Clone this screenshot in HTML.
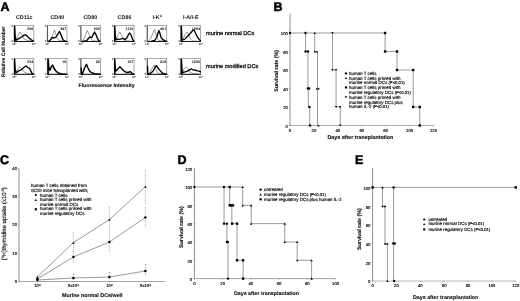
<!DOCTYPE html>
<html lang="en">
<head>
<meta charset="utf-8">
<title>Figure</title>
<style>
html,body{margin:0;padding:0;background:#fff;}
body{width:520px;height:301px;overflow:hidden;font-family:"Liberation Sans",Arial,sans-serif;}
svg{display:block;filter:blur(0.4px);}
svg text{font-family:"Liberation Sans",Arial,sans-serif;text-rendering:geometricPrecision;}
</style>
</head>
<body>
<svg width="520" height="301" viewBox="0 0 520 301">
<rect x="0" y="0" width="520" height="301" fill="#ffffff"/>
<text x="0.5" y="10.5" font-size="12.5" font-weight="bold" text-anchor="start" fill="#000" stroke="#000" stroke-width="0.5">A</text>
<text x="24.2" y="19" font-size="5.4" font-weight="bold" text-anchor="middle" fill="#111">CD11c</text>
<text x="57.3" y="19" font-size="5.4" font-weight="bold" text-anchor="middle" fill="#111">CD40</text>
<text x="90.3" y="19" font-size="5.4" font-weight="bold" text-anchor="middle" fill="#111">CD80</text>
<text x="124.5" y="19" font-size="5.4" font-weight="bold" text-anchor="middle" fill="#111">CD86</text>
<text x="157.2" y="19" font-size="5.4" font-weight="bold" text-anchor="middle" fill="#111">I-K<tspan font-size="3.4" dy="-1.6">d</tspan></text>
<text x="190.7" y="19" font-size="5.4" font-weight="bold" text-anchor="middle" fill="#111">I-A/I-E</text>
<rect x="14.25" y="25.6" width="19.6" height="15.90" fill="none" stroke="#666" stroke-width="0.55"/>
<line x1="13.95" y1="41.5" x2="34.15" y2="41.5" stroke="#111" stroke-width="1.0"/>
<line x1="14.25" y1="25.6" x2="14.25" y2="41.5" stroke="#333" stroke-width="0.8"/>
<text x="13.05" y="27.0" font-size="2.8" font-weight="bold" text-anchor="end" fill="#222">0</text>
<text x="13.05" y="42.3" font-size="2.8" font-weight="bold" text-anchor="end" fill="#222">0</text>
<text x="14.25" y="45.1" font-size="2.8" font-weight="bold" text-anchor="middle" fill="#222">10<tspan font-size="1.9" dy="-1">0</tspan></text>
<text x="33.85" y="45.1" font-size="2.8" font-weight="bold" text-anchor="middle" fill="#222">10<tspan font-size="1.9" dy="-1">4</tspan></text>
<line x1="19.15" y1="41.5" x2="19.15" y2="40.7" stroke="#777" stroke-width="0.4"/>
<line x1="24.05" y1="41.5" x2="24.05" y2="40.7" stroke="#777" stroke-width="0.4"/>
<line x1="28.950000000000003" y1="41.5" x2="28.950000000000003" y2="40.7" stroke="#777" stroke-width="0.4"/>
<polyline points="14.25,41.50 16.21,39.12 18.17,35.14 19.93,31.96 21.70,35.14 24.05,39.12 27.97,40.70 33.85,41.50" fill="none" stroke="#333" stroke-width="0.5" stroke-linejoin="round"/>
<polyline points="14.64,41.50 14.64,26.08 15.23,36.73 16.21,40.23 19.15,38.32 22.09,36.73 24.05,35.14 25.62,34.82 27.97,37.05 30.91,39.59 33.26,41.18" fill="none" stroke="#000" stroke-width="1.35" stroke-linejoin="round" stroke-linecap="round"/>
<text x="33.25" y="30.200000000000003" font-size="3.7" font-weight="bold" text-anchor="end" fill="#111">356</text>
<rect x="47.4" y="25.6" width="19.6" height="15.90" fill="none" stroke="#666" stroke-width="0.55"/>
<line x1="47.1" y1="41.5" x2="67.3" y2="41.5" stroke="#111" stroke-width="1.0"/>
<line x1="47.4" y1="25.6" x2="47.4" y2="41.5" stroke="#333" stroke-width="0.8"/>
<text x="46.199999999999996" y="27.0" font-size="2.8" font-weight="bold" text-anchor="end" fill="#222">0</text>
<text x="46.199999999999996" y="42.3" font-size="2.8" font-weight="bold" text-anchor="end" fill="#222">0</text>
<text x="47.4" y="45.1" font-size="2.8" font-weight="bold" text-anchor="middle" fill="#222">10<tspan font-size="1.9" dy="-1">0</tspan></text>
<text x="67.0" y="45.1" font-size="2.8" font-weight="bold" text-anchor="middle" fill="#222">10<tspan font-size="1.9" dy="-1">4</tspan></text>
<line x1="52.3" y1="41.5" x2="52.3" y2="40.7" stroke="#777" stroke-width="0.4"/>
<line x1="57.2" y1="41.5" x2="57.2" y2="40.7" stroke="#777" stroke-width="0.4"/>
<line x1="62.1" y1="41.5" x2="62.1" y2="40.7" stroke="#777" stroke-width="0.4"/>
<polyline points="48.38,41.50 51.32,38.32 53.28,33.55 54.46,30.05 55.63,33.55 57.20,38.32 59.16,40.70 67.00,41.50" fill="none" stroke="#333" stroke-width="0.5" stroke-linejoin="round"/>
<polyline points="48.38,41.50 50.34,39.91 52.30,37.52 54.26,38.00 56.22,36.73 58.18,33.55 59.55,31.48 61.12,35.14 63.08,39.91 65.04,41.18 67.00,41.50" fill="none" stroke="#000" stroke-width="1.35" stroke-linejoin="round" stroke-linecap="round"/>
<text x="66.4" y="30.200000000000003" font-size="3.7" font-weight="bold" text-anchor="end" fill="#111">247</text>
<rect x="80.9" y="25.6" width="19.6" height="15.90" fill="none" stroke="#666" stroke-width="0.55"/>
<line x1="80.60000000000001" y1="41.5" x2="100.8" y2="41.5" stroke="#111" stroke-width="1.0"/>
<line x1="80.9" y1="25.6" x2="80.9" y2="41.5" stroke="#333" stroke-width="0.8"/>
<text x="79.7" y="27.0" font-size="2.8" font-weight="bold" text-anchor="end" fill="#222">0</text>
<text x="79.7" y="42.3" font-size="2.8" font-weight="bold" text-anchor="end" fill="#222">0</text>
<text x="80.9" y="45.1" font-size="2.8" font-weight="bold" text-anchor="middle" fill="#222">10<tspan font-size="1.9" dy="-1">0</tspan></text>
<text x="100.5" y="45.1" font-size="2.8" font-weight="bold" text-anchor="middle" fill="#222">10<tspan font-size="1.9" dy="-1">4</tspan></text>
<line x1="85.80000000000001" y1="41.5" x2="85.80000000000001" y2="40.7" stroke="#777" stroke-width="0.4"/>
<line x1="90.7" y1="41.5" x2="90.7" y2="40.7" stroke="#777" stroke-width="0.4"/>
<line x1="95.60000000000001" y1="41.5" x2="95.60000000000001" y2="40.7" stroke="#777" stroke-width="0.4"/>
<polyline points="81.88,41.50 83.84,39.12 85.80,34.34 87.37,30.53 88.74,33.55 90.70,38.32 92.66,40.70 100.50,41.50" fill="none" stroke="#333" stroke-width="0.5" stroke-linejoin="round"/>
<polyline points="82.86,41.50 86.78,40.70 88.74,38.00 90.11,37.05 91.68,37.52 93.25,34.34 94.62,31.96 96.19,35.14 98.15,39.91 99.91,41.50" fill="none" stroke="#000" stroke-width="1.35" stroke-linejoin="round" stroke-linecap="round"/>
<text x="99.9" y="30.200000000000003" font-size="3.7" font-weight="bold" text-anchor="end" fill="#111">506</text>
<rect x="114.4" y="25.6" width="19.6" height="15.90" fill="none" stroke="#666" stroke-width="0.55"/>
<line x1="114.10000000000001" y1="41.5" x2="134.3" y2="41.5" stroke="#111" stroke-width="1.0"/>
<line x1="114.4" y1="25.6" x2="114.4" y2="41.5" stroke="#333" stroke-width="0.8"/>
<text x="113.2" y="27.0" font-size="2.8" font-weight="bold" text-anchor="end" fill="#222">0</text>
<text x="113.2" y="42.3" font-size="2.8" font-weight="bold" text-anchor="end" fill="#222">0</text>
<text x="114.4" y="45.1" font-size="2.8" font-weight="bold" text-anchor="middle" fill="#222">10<tspan font-size="1.9" dy="-1">0</tspan></text>
<text x="134.0" y="45.1" font-size="2.8" font-weight="bold" text-anchor="middle" fill="#222">10<tspan font-size="1.9" dy="-1">4</tspan></text>
<line x1="119.30000000000001" y1="41.5" x2="119.30000000000001" y2="40.7" stroke="#777" stroke-width="0.4"/>
<line x1="124.2" y1="41.5" x2="124.2" y2="40.7" stroke="#777" stroke-width="0.4"/>
<line x1="129.1" y1="41.5" x2="129.1" y2="40.7" stroke="#777" stroke-width="0.4"/>
<polyline points="114.99,41.50 116.75,38.32 118.32,34.34 119.89,31.96 121.46,35.14 123.22,39.12 125.18,40.70 134.00,41.50" fill="none" stroke="#333" stroke-width="0.5" stroke-linejoin="round"/>
<polyline points="114.79,41.50 114.79,26.08 115.38,36.73 116.36,39.59 120.28,39.12 123.22,38.32 125.18,39.59 127.14,37.52 128.51,34.34 129.69,33.07 131.06,35.14 132.63,39.59 134.00,41.50" fill="none" stroke="#000" stroke-width="1.35" stroke-linejoin="round" stroke-linecap="round"/>
<text x="133.4" y="30.200000000000003" font-size="3.7" font-weight="bold" text-anchor="end" fill="#111">1110</text>
<rect x="147.2" y="25.6" width="19.6" height="15.90" fill="none" stroke="#666" stroke-width="0.55"/>
<line x1="146.89999999999998" y1="41.5" x2="167.1" y2="41.5" stroke="#111" stroke-width="1.0"/>
<line x1="147.2" y1="25.6" x2="147.2" y2="41.5" stroke="#333" stroke-width="0.8"/>
<text x="146.0" y="27.0" font-size="2.8" font-weight="bold" text-anchor="end" fill="#222">0</text>
<text x="146.0" y="42.3" font-size="2.8" font-weight="bold" text-anchor="end" fill="#222">0</text>
<text x="147.2" y="45.1" font-size="2.8" font-weight="bold" text-anchor="middle" fill="#222">10<tspan font-size="1.9" dy="-1">0</tspan></text>
<text x="166.79999999999998" y="45.1" font-size="2.8" font-weight="bold" text-anchor="middle" fill="#222">10<tspan font-size="1.9" dy="-1">4</tspan></text>
<line x1="152.1" y1="41.5" x2="152.1" y2="40.7" stroke="#777" stroke-width="0.4"/>
<line x1="157.0" y1="41.5" x2="157.0" y2="40.7" stroke="#777" stroke-width="0.4"/>
<line x1="161.89999999999998" y1="41.5" x2="161.89999999999998" y2="40.7" stroke="#777" stroke-width="0.4"/>
<polyline points="148.18,41.50 150.14,39.12 152.10,35.14 153.67,31.16 154.45,29.42 155.63,33.55 157.00,38.32 158.96,40.70 166.80,41.50" fill="none" stroke="#333" stroke-width="0.5" stroke-linejoin="round"/>
<polyline points="151.12,41.50 155.04,40.23 157.00,36.73 157.98,32.76 158.96,30.53 159.94,33.55 161.31,38.00 163.27,39.91 165.82,41.18 166.80,41.50" fill="none" stroke="#000" stroke-width="1.35" stroke-linejoin="round" stroke-linecap="round"/>
<text x="166.2" y="30.200000000000003" font-size="3.7" font-weight="bold" text-anchor="end" fill="#111">451</text>
<rect x="181.0" y="25.6" width="19.6" height="15.90" fill="none" stroke="#666" stroke-width="0.55"/>
<line x1="180.7" y1="41.5" x2="200.9" y2="41.5" stroke="#111" stroke-width="1.0"/>
<line x1="181.0" y1="25.6" x2="181.0" y2="41.5" stroke="#333" stroke-width="0.8"/>
<text x="179.8" y="27.0" font-size="2.8" font-weight="bold" text-anchor="end" fill="#222">0</text>
<text x="179.8" y="42.3" font-size="2.8" font-weight="bold" text-anchor="end" fill="#222">0</text>
<text x="181.0" y="45.1" font-size="2.8" font-weight="bold" text-anchor="middle" fill="#222">10<tspan font-size="1.9" dy="-1">0</tspan></text>
<text x="200.6" y="45.1" font-size="2.8" font-weight="bold" text-anchor="middle" fill="#222">10<tspan font-size="1.9" dy="-1">4</tspan></text>
<line x1="185.9" y1="41.5" x2="185.9" y2="40.7" stroke="#777" stroke-width="0.4"/>
<line x1="190.8" y1="41.5" x2="190.8" y2="40.7" stroke="#777" stroke-width="0.4"/>
<line x1="195.7" y1="41.5" x2="195.7" y2="40.7" stroke="#777" stroke-width="0.4"/>
<polyline points="181.59,41.50 183.35,38.32 185.31,34.34 187.08,31.96 188.84,35.14 190.80,39.12 192.76,41.02 200.60,41.50" fill="none" stroke="#333" stroke-width="0.5" stroke-linejoin="round"/>
<polyline points="181.39,41.50 181.39,26.08 181.98,40.23 184.92,39.12 187.86,35.94 190.80,32.76 192.76,30.37 193.94,30.05 195.70,33.55 197.66,37.52 199.62,39.91 200.60,40.70" fill="none" stroke="#000" stroke-width="1.35" stroke-linejoin="round" stroke-linecap="round"/>
<text x="200.0" y="30.200000000000003" font-size="3.7" font-weight="bold" text-anchor="end" fill="#111">1964</text>
<rect x="14.25" y="58.6" width="19.6" height="15.70" fill="none" stroke="#666" stroke-width="0.55"/>
<line x1="13.95" y1="74.3" x2="34.15" y2="74.3" stroke="#111" stroke-width="1.0"/>
<line x1="14.25" y1="58.6" x2="14.25" y2="74.3" stroke="#333" stroke-width="0.8"/>
<text x="13.05" y="60.0" font-size="2.8" font-weight="bold" text-anchor="end" fill="#222">0</text>
<text x="13.05" y="75.1" font-size="2.8" font-weight="bold" text-anchor="end" fill="#222">0</text>
<text x="14.25" y="77.89999999999999" font-size="2.8" font-weight="bold" text-anchor="middle" fill="#222">10<tspan font-size="1.9" dy="-1">0</tspan></text>
<text x="33.85" y="77.89999999999999" font-size="2.8" font-weight="bold" text-anchor="middle" fill="#222">10<tspan font-size="1.9" dy="-1">4</tspan></text>
<line x1="19.15" y1="74.3" x2="19.15" y2="73.5" stroke="#777" stroke-width="0.4"/>
<line x1="24.05" y1="74.3" x2="24.05" y2="73.5" stroke="#777" stroke-width="0.4"/>
<line x1="28.950000000000003" y1="74.3" x2="28.950000000000003" y2="73.5" stroke="#777" stroke-width="0.4"/>
<polyline points="14.25,74.30 16.21,71.94 18.17,68.81 19.93,66.76 21.70,68.81 24.05,71.94 27.97,73.52 33.85,74.30" fill="none" stroke="#333" stroke-width="0.5" stroke-linejoin="round"/>
<polyline points="14.64,74.30 14.64,59.07 15.23,69.59 16.21,72.73 18.17,71.16 21.11,69.90 24.05,67.23 26.01,65.98 27.58,67.23 29.54,68.33 30.91,71.16 32.28,73.83 33.85,74.30" fill="none" stroke="#000" stroke-width="1.35" stroke-linejoin="round" stroke-linecap="round"/>
<text x="33.25" y="63.2" font-size="3.7" font-weight="bold" text-anchor="end" fill="#111">334</text>
<rect x="47.4" y="58.6" width="19.6" height="15.70" fill="none" stroke="#666" stroke-width="0.55"/>
<line x1="47.1" y1="74.3" x2="67.3" y2="74.3" stroke="#111" stroke-width="1.0"/>
<line x1="47.4" y1="58.6" x2="47.4" y2="74.3" stroke="#333" stroke-width="0.8"/>
<text x="46.199999999999996" y="60.0" font-size="2.8" font-weight="bold" text-anchor="end" fill="#222">0</text>
<text x="46.199999999999996" y="75.1" font-size="2.8" font-weight="bold" text-anchor="end" fill="#222">0</text>
<text x="47.4" y="77.89999999999999" font-size="2.8" font-weight="bold" text-anchor="middle" fill="#222">10<tspan font-size="1.9" dy="-1">0</tspan></text>
<text x="67.0" y="77.89999999999999" font-size="2.8" font-weight="bold" text-anchor="middle" fill="#222">10<tspan font-size="1.9" dy="-1">4</tspan></text>
<line x1="52.3" y1="74.3" x2="52.3" y2="73.5" stroke="#777" stroke-width="0.4"/>
<line x1="57.2" y1="74.3" x2="57.2" y2="73.5" stroke="#777" stroke-width="0.4"/>
<line x1="62.1" y1="74.3" x2="62.1" y2="73.5" stroke="#777" stroke-width="0.4"/>
<polyline points="48.38,74.30 49.36,68.02 51.32,66.45 53.28,68.81 56.22,72.73 59.16,73.99 67.00,74.30" fill="none" stroke="#333" stroke-width="0.5" stroke-linejoin="round"/>
<polyline points="48.18,74.30 48.18,59.07 48.97,68.02 50.14,70.38 51.32,66.45 52.69,65.04 53.87,68.02 56.22,71.16 58.77,73.20 62.10,73.99 67.00,74.30" fill="none" stroke="#000" stroke-width="1.35" stroke-linejoin="round" stroke-linecap="round"/>
<text x="66.4" y="63.2" font-size="3.7" font-weight="bold" text-anchor="end" fill="#111">15</text>
<rect x="80.9" y="58.6" width="19.6" height="15.70" fill="none" stroke="#666" stroke-width="0.55"/>
<line x1="80.60000000000001" y1="74.3" x2="100.8" y2="74.3" stroke="#111" stroke-width="1.0"/>
<line x1="80.9" y1="58.6" x2="80.9" y2="74.3" stroke="#333" stroke-width="0.8"/>
<text x="79.7" y="60.0" font-size="2.8" font-weight="bold" text-anchor="end" fill="#222">0</text>
<text x="79.7" y="75.1" font-size="2.8" font-weight="bold" text-anchor="end" fill="#222">0</text>
<text x="80.9" y="77.89999999999999" font-size="2.8" font-weight="bold" text-anchor="middle" fill="#222">10<tspan font-size="1.9" dy="-1">0</tspan></text>
<text x="100.5" y="77.89999999999999" font-size="2.8" font-weight="bold" text-anchor="middle" fill="#222">10<tspan font-size="1.9" dy="-1">4</tspan></text>
<line x1="85.80000000000001" y1="74.3" x2="85.80000000000001" y2="73.5" stroke="#777" stroke-width="0.4"/>
<line x1="90.7" y1="74.3" x2="90.7" y2="73.5" stroke="#777" stroke-width="0.4"/>
<line x1="95.60000000000001" y1="74.3" x2="95.60000000000001" y2="73.5" stroke="#777" stroke-width="0.4"/>
<polyline points="81.49,74.30 82.86,72.73 84.82,68.02 86.39,64.88 87.96,68.81 90.70,72.42 94.62,73.83 100.50,74.30" fill="none" stroke="#333" stroke-width="0.5" stroke-linejoin="round"/>
<polyline points="81.29,68.02 81.49,74.30 82.86,72.73 84.82,67.23 86.49,64.25 87.96,68.02 89.72,71.16 91.68,72.73 94.62,73.67 100.50,74.30" fill="none" stroke="#000" stroke-width="1.35" stroke-linejoin="round" stroke-linecap="round"/>
<text x="99.9" y="63.2" font-size="3.7" font-weight="bold" text-anchor="end" fill="#111">22</text>
<rect x="114.4" y="58.6" width="19.6" height="15.70" fill="none" stroke="#666" stroke-width="0.55"/>
<line x1="114.10000000000001" y1="74.3" x2="134.3" y2="74.3" stroke="#111" stroke-width="1.0"/>
<line x1="114.4" y1="58.6" x2="114.4" y2="74.3" stroke="#333" stroke-width="0.8"/>
<text x="113.2" y="60.0" font-size="2.8" font-weight="bold" text-anchor="end" fill="#222">0</text>
<text x="113.2" y="75.1" font-size="2.8" font-weight="bold" text-anchor="end" fill="#222">0</text>
<text x="114.4" y="77.89999999999999" font-size="2.8" font-weight="bold" text-anchor="middle" fill="#222">10<tspan font-size="1.9" dy="-1">0</tspan></text>
<text x="134.0" y="77.89999999999999" font-size="2.8" font-weight="bold" text-anchor="middle" fill="#222">10<tspan font-size="1.9" dy="-1">4</tspan></text>
<line x1="119.30000000000001" y1="74.3" x2="119.30000000000001" y2="73.5" stroke="#777" stroke-width="0.4"/>
<line x1="124.2" y1="74.3" x2="124.2" y2="73.5" stroke="#777" stroke-width="0.4"/>
<line x1="129.1" y1="74.3" x2="129.1" y2="73.5" stroke="#777" stroke-width="0.4"/>
<polyline points="114.99,74.30 116.36,71.16 118.32,68.02 119.89,66.76 122.24,69.59 125.18,72.73 128.12,73.83 134.00,74.30" fill="none" stroke="#333" stroke-width="0.5" stroke-linejoin="round"/>
<polyline points="114.79,74.30 114.79,59.07 115.58,71.16 117.34,69.59 119.89,66.76 122.24,69.28 124.20,71.16 126.16,72.26 128.51,72.42 130.08,71.47 131.65,73.04 134.00,74.30" fill="none" stroke="#000" stroke-width="1.35" stroke-linejoin="round" stroke-linecap="round"/>
<text x="133.4" y="63.2" font-size="3.7" font-weight="bold" text-anchor="end" fill="#111">107</text>
<rect x="147.2" y="58.6" width="19.6" height="15.70" fill="none" stroke="#666" stroke-width="0.55"/>
<line x1="146.89999999999998" y1="74.3" x2="167.1" y2="74.3" stroke="#111" stroke-width="1.0"/>
<line x1="147.2" y1="58.6" x2="147.2" y2="74.3" stroke="#333" stroke-width="0.8"/>
<text x="146.0" y="60.0" font-size="2.8" font-weight="bold" text-anchor="end" fill="#222">0</text>
<text x="146.0" y="75.1" font-size="2.8" font-weight="bold" text-anchor="end" fill="#222">0</text>
<text x="147.2" y="77.89999999999999" font-size="2.8" font-weight="bold" text-anchor="middle" fill="#222">10<tspan font-size="1.9" dy="-1">0</tspan></text>
<text x="166.79999999999998" y="77.89999999999999" font-size="2.8" font-weight="bold" text-anchor="middle" fill="#222">10<tspan font-size="1.9" dy="-1">4</tspan></text>
<line x1="152.1" y1="74.3" x2="152.1" y2="73.5" stroke="#777" stroke-width="0.4"/>
<line x1="157.0" y1="74.3" x2="157.0" y2="73.5" stroke="#777" stroke-width="0.4"/>
<line x1="161.89999999999998" y1="74.3" x2="161.89999999999998" y2="73.5" stroke="#777" stroke-width="0.4"/>
<polyline points="148.18,74.30 150.14,71.94 152.10,68.02 154.06,65.04 155.63,68.02 157.00,71.94 158.96,73.83 166.80,74.30" fill="none" stroke="#333" stroke-width="0.5" stroke-linejoin="round"/>
<polyline points="147.59,66.45 147.79,74.30 150.14,73.52 153.08,71.16 155.04,67.23 156.22,65.51 157.98,68.02 159.94,70.38 162.49,73.20 164.84,73.99 166.80,74.30" fill="none" stroke="#000" stroke-width="1.35" stroke-linejoin="round" stroke-linecap="round"/>
<text x="166.2" y="63.2" font-size="3.7" font-weight="bold" text-anchor="end" fill="#111">218</text>
<rect x="181.0" y="58.6" width="19.6" height="15.70" fill="none" stroke="#666" stroke-width="0.55"/>
<line x1="180.7" y1="74.3" x2="200.9" y2="74.3" stroke="#111" stroke-width="1.0"/>
<line x1="181.0" y1="58.6" x2="181.0" y2="74.3" stroke="#333" stroke-width="0.8"/>
<text x="179.8" y="60.0" font-size="2.8" font-weight="bold" text-anchor="end" fill="#222">0</text>
<text x="179.8" y="75.1" font-size="2.8" font-weight="bold" text-anchor="end" fill="#222">0</text>
<text x="181.0" y="77.89999999999999" font-size="2.8" font-weight="bold" text-anchor="middle" fill="#222">10<tspan font-size="1.9" dy="-1">0</tspan></text>
<text x="200.6" y="77.89999999999999" font-size="2.8" font-weight="bold" text-anchor="middle" fill="#222">10<tspan font-size="1.9" dy="-1">4</tspan></text>
<line x1="185.9" y1="74.3" x2="185.9" y2="73.5" stroke="#777" stroke-width="0.4"/>
<line x1="190.8" y1="74.3" x2="190.8" y2="73.5" stroke="#777" stroke-width="0.4"/>
<line x1="195.7" y1="74.3" x2="195.7" y2="73.5" stroke="#777" stroke-width="0.4"/>
<polyline points="181.59,74.30 182.96,71.16 184.53,68.02 186.10,66.76 187.86,68.81 189.82,71.94 192.76,73.52 200.60,74.30" fill="none" stroke="#333" stroke-width="0.5" stroke-linejoin="round"/>
<polyline points="181.39,74.30 181.39,59.07 182.18,72.73 184.92,71.94 187.86,70.85 189.82,69.59 191.58,68.96 193.15,70.06 195.11,69.90 197.07,70.85 199.03,71.16 200.60,71.94" fill="none" stroke="#000" stroke-width="1.35" stroke-linejoin="round" stroke-linecap="round"/>
<text x="200.0" y="63.2" font-size="3.7" font-weight="bold" text-anchor="end" fill="#111">1255</text>
<text x="206" y="34.6" font-size="5.6" text-anchor="start" fill="#111" stroke="#111" stroke-width="0.3">murine normal DCs</text>
<text x="206" y="67.5" font-size="5.6" text-anchor="start" fill="#111" stroke="#111" stroke-width="0.3">murine modified DCs</text>
<text x="78.5" y="87.4" font-size="5.2" font-weight="bold" text-anchor="start" fill="#111" stroke="#111" stroke-width="0.12">Fluorescence Intensity</text>
<text x="4.8" y="77" font-size="5.05" font-weight="bold" text-anchor="start" fill="#111" transform="rotate(-90 4.8 77)" stroke="#111" stroke-width="0.12">Relative Cell Number</text>
<text x="273.5" y="10.5" font-size="12.5" font-weight="bold" text-anchor="start" fill="#000" stroke="#000" stroke-width="0.5">B</text>
<line x1="290" y1="13.5" x2="290" y2="125.5" stroke="#444" stroke-width="0.6"/>
<line x1="290" y1="125.5" x2="433.52" y2="125.5" stroke="#777" stroke-width="0.6"/>
<line x1="289" y1="125.5" x2="290" y2="125.5" stroke="#555" stroke-width="0.5"/>
<text x="287.8" y="127.9" font-size="4.2" text-anchor="end" fill="#000" stroke="#000" stroke-width="0.15">0</text>
<line x1="289" y1="107.0" x2="290" y2="107.0" stroke="#555" stroke-width="0.5"/>
<text x="287.8" y="109.4" font-size="4.2" text-anchor="end" fill="#000" stroke="#000" stroke-width="0.15">20</text>
<line x1="289" y1="88.5" x2="290" y2="88.5" stroke="#555" stroke-width="0.5"/>
<text x="287.8" y="90.9" font-size="4.2" text-anchor="end" fill="#000" stroke="#000" stroke-width="0.15">40</text>
<line x1="289" y1="70.0" x2="290" y2="70.0" stroke="#555" stroke-width="0.5"/>
<text x="287.8" y="72.4" font-size="4.2" text-anchor="end" fill="#000" stroke="#000" stroke-width="0.15">60</text>
<line x1="289" y1="51.5" x2="290" y2="51.5" stroke="#555" stroke-width="0.5"/>
<text x="287.8" y="53.9" font-size="4.2" text-anchor="end" fill="#000" stroke="#000" stroke-width="0.15">80</text>
<line x1="289" y1="33.0" x2="290" y2="33.0" stroke="#555" stroke-width="0.5"/>
<text x="287.8" y="35.4" font-size="4.2" text-anchor="end" fill="#000" stroke="#000" stroke-width="0.15">100</text>
<line x1="290.0" y1="125.5" x2="290.0" y2="126.5" stroke="#555" stroke-width="0.5"/>
<text x="290.0" y="131.8" font-size="4.2" text-anchor="middle" fill="#000" stroke="#000" stroke-width="0.15">0</text>
<line x1="313.92" y1="125.5" x2="313.92" y2="126.5" stroke="#555" stroke-width="0.5"/>
<text x="313.92" y="131.8" font-size="4.2" text-anchor="middle" fill="#000" stroke="#000" stroke-width="0.15">20</text>
<line x1="337.84" y1="125.5" x2="337.84" y2="126.5" stroke="#555" stroke-width="0.5"/>
<text x="337.84" y="131.8" font-size="4.2" text-anchor="middle" fill="#000" stroke="#000" stroke-width="0.15">40</text>
<line x1="361.76" y1="125.5" x2="361.76" y2="126.5" stroke="#555" stroke-width="0.5"/>
<text x="361.76" y="131.8" font-size="4.2" text-anchor="middle" fill="#000" stroke="#000" stroke-width="0.15">60</text>
<line x1="385.68" y1="125.5" x2="385.68" y2="126.5" stroke="#555" stroke-width="0.5"/>
<text x="385.68" y="131.8" font-size="4.2" text-anchor="middle" fill="#000" stroke="#000" stroke-width="0.15">80</text>
<line x1="409.6" y1="125.5" x2="409.6" y2="126.5" stroke="#555" stroke-width="0.5"/>
<text x="409.6" y="131.8" font-size="4.2" text-anchor="middle" fill="#000" stroke="#000" stroke-width="0.15">100</text>
<line x1="433.52" y1="125.5" x2="433.52" y2="126.5" stroke="#555" stroke-width="0.5"/>
<text x="433.52" y="131.8" font-size="4.2" text-anchor="middle" fill="#000" stroke="#000" stroke-width="0.15">120</text>
<text x="278.2" y="91.8" font-size="5.35" font-weight="bold" text-anchor="start" fill="#111" transform="rotate(-90 278.2 91.8)" stroke="#111" stroke-width="0.12">Survival rate (%)</text>
<text x="327.4" y="139.2" font-size="5.35" font-weight="bold" text-anchor="start" fill="#111" stroke="#111" stroke-width="0.12">Days after transplantation</text>
<polyline points="290.00,33.00 305.55,33.00 305.55,51.50 307.94,51.50 307.94,88.50 308.30,88.50 308.30,107.00 309.73,107.00 309.73,125.50" fill="none" stroke="#555" stroke-width="0.6"/>
<circle cx="290.00" cy="33.00" r="1.2" fill="#000"/>
<circle cx="305.55" cy="33.00" r="1.2" fill="#000"/>
<circle cx="305.55" cy="51.50" r="1.2" fill="#000"/>
<circle cx="307.94" cy="51.50" r="1.2" fill="#000"/>
<circle cx="307.94" cy="88.50" r="1.2" fill="#000"/>
<circle cx="309.14" cy="88.50" r="1.2" fill="#000"/>
<circle cx="309.49" cy="107.00" r="1.2" fill="#000"/>
<circle cx="310.09" cy="125.50" r="1.2" fill="#000"/>
<polyline points="305.55,33.00 314.76,33.00 314.76,51.50 317.51,51.50 317.51,125.50" fill="none" stroke="#555" stroke-width="0.6"/>
<polygon points="313.56,34.08 315.96,34.08 314.76,31.92" fill="#000"/>
<polygon points="313.56,52.58 315.96,52.58 314.76,50.42" fill="#000"/>
<polygon points="315.71,52.58 318.11,52.58 316.91,50.42" fill="#000"/>
<polygon points="315.59,89.58 317.99,89.58 316.79,87.42" fill="#000"/>
<polygon points="317.50,89.58 319.90,89.58 318.70,87.42" fill="#000"/>
<polygon points="317.26,126.58 319.66,126.58 318.46,124.42" fill="#000"/>
<polyline points="314.76,33.00 332.46,33.00 332.46,70.00 336.05,70.00 336.05,107.00 340.23,107.00 340.23,125.50" fill="none" stroke="#555" stroke-width="0.6"/>
<polygon points="331.26,31.92 333.66,31.92 332.46,34.08" fill="#000"/>
<polygon points="331.26,68.92 333.66,68.92 332.46,71.08" fill="#000"/>
<polygon points="334.85,68.92 337.25,68.92 336.05,71.08" fill="#000"/>
<polygon points="334.85,105.92 337.25,105.92 336.05,108.08" fill="#000"/>
<polygon points="339.03,105.92 341.43,105.92 340.23,108.08" fill="#000"/>
<polygon points="339.03,124.42 341.43,124.42 340.23,126.58" fill="#000"/>
<polyline points="332.46,33.00 385.08,33.00 385.08,51.50 397.04,51.50 397.04,70.00 413.19,70.00 413.19,107.00 419.77,107.00 419.77,125.50" fill="none" stroke="#555" stroke-width="0.6"/>
<rect x="383.88" y="31.80" width="2.4" height="2.4" fill="#000"/>
<rect x="383.88" y="50.30" width="2.4" height="2.4" fill="#000"/>
<rect x="395.84" y="50.30" width="2.4" height="2.4" fill="#000"/>
<rect x="395.84" y="68.80" width="2.4" height="2.4" fill="#000"/>
<rect x="411.99" y="68.80" width="2.4" height="2.4" fill="#000"/>
<rect x="411.99" y="105.80" width="2.4" height="2.4" fill="#000"/>
<rect x="418.57" y="105.80" width="2.4" height="2.4" fill="#000"/>
<rect x="418.57" y="124.30" width="2.4" height="2.4" fill="#000"/>
<circle cx="346.00" cy="73.40" r="1.2" fill="#000"/>
<text x="349" y="75.0" font-size="4.45" text-anchor="start" fill="#111" stroke="#111" stroke-width="0.18">human T cells</text>
<polygon points="344.80,79.08 347.20,79.08 346.00,76.92" fill="#000"/>
<text x="349" y="79.6" font-size="4.45" text-anchor="start" fill="#111" stroke="#111" stroke-width="0.18">human T cells primed with</text>
<text x="349" y="84.1" font-size="4.45" text-anchor="start" fill="#111" stroke="#111" stroke-width="0.18">murine normal DCs <tspan font-size="4.2">(P&lt;0.01)</tspan></text>
<rect x="344.90" y="86.30" width="2.2" height="2.2" fill="#000"/>
<text x="349" y="89.0" font-size="4.45" text-anchor="start" fill="#111" stroke="#111" stroke-width="0.18">human T cells primed with</text>
<text x="349" y="93.5" font-size="4.45" text-anchor="start" fill="#111" stroke="#111" stroke-width="0.18">murine regulatory DCs <tspan font-size="4.2">(P&lt;0.01)</tspan></text>
<polygon points="344.80,96.32 347.20,96.32 346.00,98.48" fill="#000"/>
<text x="349" y="99.0" font-size="4.45" text-anchor="start" fill="#111" stroke="#111" stroke-width="0.18">human T cells primed with</text>
<text x="349" y="103.5" font-size="4.45" text-anchor="start" fill="#111" stroke="#111" stroke-width="0.18">murine regulatory DCs plus</text>
<text x="349" y="107.5" font-size="4.45" text-anchor="start" fill="#111" stroke="#111" stroke-width="0.18">human IL-2 <tspan font-size="4.2">(P&lt;0.01)</tspan></text>
<text x="0" y="164" font-size="12.5" font-weight="bold" text-anchor="start" fill="#000" stroke="#000" stroke-width="0.5">C</text>
<line x1="19" y1="168.5" x2="19" y2="281.5" stroke="#444" stroke-width="0.6"/>
<line x1="19" y1="281.5" x2="165" y2="281.5" stroke="#808080" stroke-width="0.7"/>
<line x1="18" y1="281.5" x2="19" y2="281.5" stroke="#555" stroke-width="0.5"/>
<text x="17" y="282.9" font-size="4.2" text-anchor="end" fill="#000" stroke="#000" stroke-width="0.15">0</text>
<line x1="18" y1="253.25" x2="19" y2="253.25" stroke="#555" stroke-width="0.5"/>
<text x="17" y="254.65" font-size="4.2" text-anchor="end" fill="#000" stroke="#000" stroke-width="0.15">10</text>
<line x1="18" y1="225.0" x2="19" y2="225.0" stroke="#555" stroke-width="0.5"/>
<text x="17" y="226.4" font-size="4.2" text-anchor="end" fill="#000" stroke="#000" stroke-width="0.15">20</text>
<line x1="18" y1="196.75" x2="19" y2="196.75" stroke="#555" stroke-width="0.5"/>
<text x="17" y="198.15" font-size="4.2" text-anchor="end" fill="#000" stroke="#000" stroke-width="0.15">30</text>
<line x1="18" y1="168.5" x2="19" y2="168.5" stroke="#555" stroke-width="0.5"/>
<text x="17" y="169.9" font-size="4.2" text-anchor="end" fill="#000" stroke="#000" stroke-width="0.15">40</text>
<line x1="37.4" y1="281.5" x2="37.4" y2="282.5" stroke="#555" stroke-width="0.5"/>
<text x="37.4" y="287.3" font-size="4.2" text-anchor="middle" fill="#000" stroke="#000" stroke-width="0.15">10<tspan font-size="2.8" dy="-1.5">3</tspan></text>
<line x1="73.4" y1="281.5" x2="73.4" y2="282.5" stroke="#555" stroke-width="0.5"/>
<text x="73.4" y="287.3" font-size="4.2" text-anchor="middle" fill="#000" stroke="#000" stroke-width="0.15">5x10<tspan font-size="2.8" dy="-1.5">3</tspan></text>
<line x1="109.4" y1="281.5" x2="109.4" y2="282.5" stroke="#555" stroke-width="0.5"/>
<text x="109.4" y="287.3" font-size="4.2" text-anchor="middle" fill="#000" stroke="#000" stroke-width="0.15">10<tspan font-size="2.8" dy="-1.5">4</tspan></text>
<line x1="145.4" y1="281.5" x2="145.4" y2="282.5" stroke="#555" stroke-width="0.5"/>
<text x="145.4" y="287.3" font-size="4.2" text-anchor="middle" fill="#000" stroke="#000" stroke-width="0.15">5x10<tspan font-size="2.8" dy="-1.5">4</tspan></text>
<text x="62" y="297.3" font-size="5.35" font-weight="bold" text-anchor="start" fill="#111" stroke="#111" stroke-width="0.12">Murine normal DCs/well</text>
<text x="6" y="260" font-size="5.95" text-anchor="start" fill="#111" transform="rotate(-90 6 260)" stroke="#111" stroke-width="0.15">[<tspan font-size="3.5" dy="-1.6">3</tspan><tspan dy="1.6">H]thymidine uptake (x10</tspan><tspan font-size="3.5" dy="-1.6">-3</tspan><tspan dy="1.6">)</tspan></text>
<polyline points="37.40,277.00 73.40,242.60 109.40,219.60 145.40,186.60" fill="none" stroke="#555" stroke-width="0.6"/>
<line x1="37.4" y1="275" x2="37.4" y2="279" stroke="#555" stroke-width="0.45" stroke-dasharray="1 0.9"/>
<line x1="73.4" y1="232" x2="73.4" y2="253" stroke="#555" stroke-width="0.45" stroke-dasharray="1 0.9"/>
<line x1="109.4" y1="207" x2="109.4" y2="232" stroke="#555" stroke-width="0.45" stroke-dasharray="1 0.9"/>
<line x1="145.4" y1="169.4" x2="145.4" y2="204" stroke="#555" stroke-width="0.45" stroke-dasharray="1 0.9"/>
<polygon points="36.20,278.08 38.60,278.08 37.40,275.92" fill="#000"/>
<polygon points="72.20,243.68 74.60,243.68 73.40,241.52" fill="#000"/>
<polygon points="108.20,220.68 110.60,220.68 109.40,218.52" fill="#000"/>
<polygon points="144.20,187.68 146.60,187.68 145.40,185.52" fill="#000"/>
<polyline points="37.40,279.00 73.40,257.00 109.40,242.00 145.40,217.40" fill="none" stroke="#555" stroke-width="0.6"/>
<line x1="37.4" y1="277.5" x2="37.4" y2="280.5" stroke="#555" stroke-width="0.45" stroke-dasharray="1 0.9"/>
<line x1="73.4" y1="251" x2="73.4" y2="263" stroke="#555" stroke-width="0.45" stroke-dasharray="1 0.9"/>
<line x1="109.4" y1="232" x2="109.4" y2="252" stroke="#555" stroke-width="0.45" stroke-dasharray="1 0.9"/>
<line x1="145.4" y1="207" x2="145.4" y2="227.6" stroke="#555" stroke-width="0.45" stroke-dasharray="1 0.9"/>
<circle cx="37.40" cy="279.00" r="1.2" fill="#000"/>
<circle cx="73.40" cy="257.00" r="1.2" fill="#000"/>
<circle cx="109.40" cy="242.00" r="1.2" fill="#000"/>
<circle cx="145.40" cy="217.40" r="1.2" fill="#000"/>
<polyline points="37.40,280.00 73.40,278.00 109.40,277.00 145.40,271.00" fill="none" stroke="#555" stroke-width="0.6"/>
<line x1="37.4" y1="279" x2="37.4" y2="281" stroke="#555" stroke-width="0.45" stroke-dasharray="1 0.9"/>
<line x1="73.4" y1="275.5" x2="73.4" y2="280" stroke="#555" stroke-width="0.45" stroke-dasharray="1 0.9"/>
<line x1="109.4" y1="274" x2="109.4" y2="280" stroke="#555" stroke-width="0.45" stroke-dasharray="1 0.9"/>
<line x1="145.4" y1="266.5" x2="145.4" y2="275.5" stroke="#555" stroke-width="0.45" stroke-dasharray="1 0.9"/>
<rect x="36.30" y="278.90" width="2.2" height="2.2" fill="#000"/>
<rect x="72.30" y="276.90" width="2.2" height="2.2" fill="#000"/>
<rect x="108.30" y="275.90" width="2.2" height="2.2" fill="#000"/>
<rect x="144.30" y="269.90" width="2.2" height="2.2" fill="#000"/>
<text x="73.4" y="275.7" font-size="3.5" text-anchor="middle" fill="#111">*</text>
<text x="109.4" y="274.2" font-size="3.5" text-anchor="middle" fill="#111">*</text>
<text x="145.4" y="266.2" font-size="3.5" text-anchor="middle" fill="#111">*</text>
<text x="31" y="187.4" font-size="4.45" text-anchor="start" fill="#111" stroke="#111" stroke-width="0.18">human T cells obtained from</text>
<text x="31" y="191.9" font-size="4.45" text-anchor="start" fill="#111" stroke="#111" stroke-width="0.18">SCID mice transplanted with;</text>
<circle cx="35.80" cy="195.00" r="1.1" fill="#000"/>
<text x="40" y="196.6" font-size="4.45" text-anchor="start" fill="#111" stroke="#111" stroke-width="0.18">human T cells</text>
<polygon points="34.60,200.88 37.00,200.88 35.80,198.72" fill="#000"/>
<text x="40" y="201.1" font-size="4.45" text-anchor="start" fill="#111" stroke="#111" stroke-width="0.18">human T cells primed with</text>
<text x="40" y="205.8" font-size="4.45" text-anchor="start" fill="#111" stroke="#111" stroke-width="0.18">murine normal DCs</text>
<rect x="34.70" y="208.20" width="2.2" height="2.2" fill="#000"/>
<text x="40" y="210.4" font-size="4.45" text-anchor="start" fill="#111" stroke="#111" stroke-width="0.18">human T cells primed with</text>
<text x="40" y="214.8" font-size="4.45" text-anchor="start" fill="#111" stroke="#111" stroke-width="0.18">murine regulatory DCs</text>
<text x="177.5" y="164" font-size="12.5" font-weight="bold" text-anchor="start" fill="#000" stroke="#000" stroke-width="0.5">D</text>
<line x1="194.4" y1="168.68" x2="194.4" y2="278.6" stroke="#444" stroke-width="0.6"/>
<line x1="194.4" y1="278.6" x2="335.6" y2="278.6" stroke="#666" stroke-width="0.6"/>
<line x1="193.4" y1="278.6" x2="194.4" y2="278.6" stroke="#555" stroke-width="0.5"/>
<text x="192.20000000000002" y="281.0" font-size="4.2" text-anchor="end" fill="#000" stroke="#000" stroke-width="0.15">0</text>
<line x1="193.4" y1="260.28000000000003" x2="194.4" y2="260.28000000000003" stroke="#555" stroke-width="0.5"/>
<text x="192.20000000000002" y="262.68" font-size="4.2" text-anchor="end" fill="#000" stroke="#000" stroke-width="0.15">20</text>
<line x1="193.4" y1="241.96" x2="194.4" y2="241.96" stroke="#555" stroke-width="0.5"/>
<text x="192.20000000000002" y="244.36" font-size="4.2" text-anchor="end" fill="#000" stroke="#000" stroke-width="0.15">40</text>
<line x1="193.4" y1="223.64000000000001" x2="194.4" y2="223.64000000000001" stroke="#555" stroke-width="0.5"/>
<text x="192.20000000000002" y="226.04000000000002" font-size="4.2" text-anchor="end" fill="#000" stroke="#000" stroke-width="0.15">60</text>
<line x1="193.4" y1="205.32" x2="194.4" y2="205.32" stroke="#555" stroke-width="0.5"/>
<text x="192.20000000000002" y="207.72" font-size="4.2" text-anchor="end" fill="#000" stroke="#000" stroke-width="0.15">80</text>
<line x1="193.4" y1="187.0" x2="194.4" y2="187.0" stroke="#555" stroke-width="0.5"/>
<text x="192.20000000000002" y="189.4" font-size="4.2" text-anchor="end" fill="#000" stroke="#000" stroke-width="0.15">100</text>
<line x1="193.4" y1="168.68" x2="194.4" y2="168.68" stroke="#555" stroke-width="0.5"/>
<text x="192.20000000000002" y="171.08" font-size="4.2" text-anchor="end" fill="#000" stroke="#000" stroke-width="0.15">120</text>
<line x1="194.4" y1="278.6" x2="194.4" y2="279.6" stroke="#555" stroke-width="0.5"/>
<text x="194.4" y="284.90000000000003" font-size="4.2" text-anchor="middle" fill="#000" stroke="#000" stroke-width="0.15">0</text>
<line x1="222.64000000000001" y1="278.6" x2="222.64000000000001" y2="279.6" stroke="#555" stroke-width="0.5"/>
<text x="222.64000000000001" y="284.90000000000003" font-size="4.2" text-anchor="middle" fill="#000" stroke="#000" stroke-width="0.15">20</text>
<line x1="250.88" y1="278.6" x2="250.88" y2="279.6" stroke="#555" stroke-width="0.5"/>
<text x="250.88" y="284.90000000000003" font-size="4.2" text-anchor="middle" fill="#000" stroke="#000" stroke-width="0.15">40</text>
<line x1="279.12" y1="278.6" x2="279.12" y2="279.6" stroke="#555" stroke-width="0.5"/>
<text x="279.12" y="284.90000000000003" font-size="4.2" text-anchor="middle" fill="#000" stroke="#000" stroke-width="0.15">60</text>
<line x1="307.36" y1="278.6" x2="307.36" y2="279.6" stroke="#555" stroke-width="0.5"/>
<text x="307.36" y="284.90000000000003" font-size="4.2" text-anchor="middle" fill="#000" stroke="#000" stroke-width="0.15">80</text>
<line x1="335.6" y1="278.6" x2="335.6" y2="279.6" stroke="#555" stroke-width="0.5"/>
<text x="335.6" y="284.90000000000003" font-size="4.2" text-anchor="middle" fill="#000" stroke="#000" stroke-width="0.15">100</text>
<text x="183" y="248" font-size="5.35" font-weight="bold" text-anchor="start" fill="#111" transform="rotate(-90 183 248)" stroke="#111" stroke-width="0.12">Survival rate (%)</text>
<text x="234" y="295.2" font-size="5.28" font-weight="bold" text-anchor="start" fill="#111" stroke="#111" stroke-width="0.12">Days after transplantation</text>
<polyline points="194.40,187.00 224.05,187.00 224.05,223.64 226.88,223.64 226.88,241.96 228.01,241.96 228.01,278.60" fill="none" stroke="#555" stroke-width="0.6"/>
<circle cx="194.40" cy="187.00" r="1.2" fill="#000"/>
<circle cx="224.05" cy="187.00" r="1.2" fill="#000"/>
<circle cx="224.05" cy="223.64" r="1.2" fill="#000"/>
<circle cx="226.88" cy="223.64" r="1.2" fill="#000"/>
<circle cx="226.88" cy="241.96" r="1.2" fill="#000"/>
<circle cx="227.72" cy="241.96" r="1.2" fill="#000"/>
<circle cx="228.01" cy="278.60" r="1.2" fill="#000"/>
<polyline points="224.05,187.00 229.70,187.00 229.70,205.32 231.82,205.32 231.82,223.64 237.04,223.64 237.04,260.28 243.11,260.28 243.11,278.60" fill="none" stroke="#555" stroke-width="0.6"/>
<rect x="228.50" y="185.80" width="2.4" height="2.4" fill="#000"/>
<rect x="228.50" y="204.12" width="2.4" height="2.4" fill="#000"/>
<rect x="230.19" y="204.12" width="2.4" height="2.4" fill="#000"/>
<rect x="231.75" y="204.12" width="2.4" height="2.4" fill="#000"/>
<rect x="230.90" y="222.44" width="2.4" height="2.4" fill="#000"/>
<rect x="235.84" y="222.44" width="2.4" height="2.4" fill="#000"/>
<rect x="235.84" y="259.08" width="2.4" height="2.4" fill="#000"/>
<rect x="241.91" y="259.08" width="2.4" height="2.4" fill="#000"/>
<rect x="241.91" y="277.40" width="2.4" height="2.4" fill="#000"/>
<polyline points="229.70,187.00 242.69,187.00 242.69,205.32 251.16,205.32 251.16,223.64 284.77,223.64 284.77,241.96 297.19,241.96 297.19,260.28 311.60,260.28 311.60,278.60" fill="none" stroke="#555" stroke-width="0.6"/>
<polygon points="241.49,188.08 243.89,188.08 242.69,185.92" fill="#000"/>
<polygon points="241.49,206.40 243.89,206.40 242.69,204.24" fill="#000"/>
<polygon points="249.96,206.40 252.36,206.40 251.16,204.24" fill="#000"/>
<polygon points="249.96,224.72 252.36,224.72 251.16,222.56" fill="#000"/>
<polygon points="283.57,224.72 285.97,224.72 284.77,222.56" fill="#000"/>
<polygon points="283.57,243.04 285.97,243.04 284.77,240.88" fill="#000"/>
<polygon points="295.99,243.04 298.39,243.04 297.19,240.88" fill="#000"/>
<polygon points="295.99,261.36 298.39,261.36 297.19,259.20" fill="#000"/>
<polygon points="310.40,261.36 312.80,261.36 311.60,259.20" fill="#000"/>
<polygon points="310.40,279.68 312.80,279.68 311.60,277.52" fill="#000"/>
<circle cx="260.60" cy="189.60" r="1.2" fill="#000"/>
<text x="264" y="191.2" font-size="4.45" text-anchor="start" fill="#111" stroke="#111" stroke-width="0.18">untreated</text>
<polygon points="259.40,195.48 261.80,195.48 260.60,193.32" fill="#000"/>
<text x="264" y="196" font-size="4.45" text-anchor="start" fill="#111" stroke="#111" stroke-width="0.18">murine regulatory DCs <tspan font-size="4.2">(P&lt;0.01)</tspan></text>
<rect x="259.50" y="198.20" width="2.2" height="2.2" fill="#000"/>
<text x="264" y="201" font-size="4.45" text-anchor="start" fill="#111" stroke="#111" stroke-width="0.18">murine regulatory DCs plus human IL-2</text>
<text x="355" y="164" font-size="12.5" font-weight="bold" text-anchor="start" fill="#000" stroke="#000" stroke-width="0.5">E</text>
<line x1="372.6" y1="168" x2="372.6" y2="281" stroke="#444" stroke-width="0.6"/>
<line x1="372.6" y1="281" x2="515.76" y2="281" stroke="#888" stroke-width="0.6"/>
<line x1="371.6" y1="281.0" x2="372.6" y2="281.0" stroke="#555" stroke-width="0.5"/>
<text x="370.40000000000003" y="283.4" font-size="4.2" text-anchor="end" fill="#000" stroke="#000" stroke-width="0.15">0</text>
<line x1="371.6" y1="262.28" x2="372.6" y2="262.28" stroke="#555" stroke-width="0.5"/>
<text x="370.40000000000003" y="264.67999999999995" font-size="4.2" text-anchor="end" fill="#000" stroke="#000" stroke-width="0.15">20</text>
<line x1="371.6" y1="243.56" x2="372.6" y2="243.56" stroke="#555" stroke-width="0.5"/>
<text x="370.40000000000003" y="245.96" font-size="4.2" text-anchor="end" fill="#000" stroke="#000" stroke-width="0.15">40</text>
<line x1="371.6" y1="224.84" x2="372.6" y2="224.84" stroke="#555" stroke-width="0.5"/>
<text x="370.40000000000003" y="227.24" font-size="4.2" text-anchor="end" fill="#000" stroke="#000" stroke-width="0.15">60</text>
<line x1="371.6" y1="206.12" x2="372.6" y2="206.12" stroke="#555" stroke-width="0.5"/>
<text x="370.40000000000003" y="208.52" font-size="4.2" text-anchor="end" fill="#000" stroke="#000" stroke-width="0.15">80</text>
<line x1="371.6" y1="187.4" x2="372.6" y2="187.4" stroke="#555" stroke-width="0.5"/>
<text x="370.40000000000003" y="189.8" font-size="4.2" text-anchor="end" fill="#000" stroke="#000" stroke-width="0.15">100</text>
<line x1="372.6" y1="281" x2="372.6" y2="282" stroke="#555" stroke-width="0.5"/>
<text x="372.6" y="287.2" font-size="4.2" text-anchor="middle" fill="#000" stroke="#000" stroke-width="0.15">0</text>
<line x1="396.46000000000004" y1="281" x2="396.46000000000004" y2="282" stroke="#555" stroke-width="0.5"/>
<text x="396.46000000000004" y="287.2" font-size="4.2" text-anchor="middle" fill="#000" stroke="#000" stroke-width="0.15">20</text>
<line x1="420.32000000000005" y1="281" x2="420.32000000000005" y2="282" stroke="#555" stroke-width="0.5"/>
<text x="420.32000000000005" y="287.2" font-size="4.2" text-anchor="middle" fill="#000" stroke="#000" stroke-width="0.15">40</text>
<line x1="444.18" y1="281" x2="444.18" y2="282" stroke="#555" stroke-width="0.5"/>
<text x="444.18" y="287.2" font-size="4.2" text-anchor="middle" fill="#000" stroke="#000" stroke-width="0.15">60</text>
<line x1="468.04" y1="281" x2="468.04" y2="282" stroke="#555" stroke-width="0.5"/>
<text x="468.04" y="287.2" font-size="4.2" text-anchor="middle" fill="#000" stroke="#000" stroke-width="0.15">80</text>
<line x1="491.90000000000003" y1="281" x2="491.90000000000003" y2="282" stroke="#555" stroke-width="0.5"/>
<text x="491.90000000000003" y="287.2" font-size="4.2" text-anchor="middle" fill="#000" stroke="#000" stroke-width="0.15">100</text>
<line x1="515.76" y1="281" x2="515.76" y2="282" stroke="#555" stroke-width="0.5"/>
<text x="515.76" y="287.2" font-size="4.2" text-anchor="middle" fill="#000" stroke="#000" stroke-width="0.15">120</text>
<text x="361" y="250" font-size="5.35" font-weight="bold" text-anchor="start" fill="#111" transform="rotate(-90 361 250)" stroke="#111" stroke-width="0.12">Survival rate (%)</text>
<text x="413" y="298.8" font-size="5.3" font-weight="bold" text-anchor="start" fill="#111" stroke="#111" stroke-width="0.12">Days after transplantation</text>
<polyline points="372.60,187.40 515.76,187.40" fill="none" stroke="#555" stroke-width="0.6"/>
<rect x="371.40" y="186.20" width="2.4" height="2.4" fill="#000"/>
<rect x="514.56" y="186.20" width="2.4" height="2.4" fill="#000"/>
<polyline points="382.50,187.40 382.50,206.12 385.01,206.12 385.01,243.56 387.39,243.56 387.39,281.00" fill="none" stroke="#555" stroke-width="0.6"/>
<polygon points="381.30,188.48 383.70,188.48 382.50,186.32" fill="#000"/>
<polygon points="381.30,207.20 383.70,207.20 382.50,205.04" fill="#000"/>
<polygon points="383.81,207.20 386.21,207.20 385.01,205.04" fill="#000"/>
<polygon points="383.81,244.64 386.21,244.64 385.01,242.48" fill="#000"/>
<polygon points="386.19,244.64 388.59,244.64 387.39,242.48" fill="#000"/>
<polygon points="386.19,282.08 388.59,282.08 387.39,279.92" fill="#000"/>
<polyline points="393.60,187.40 393.60,281.00" fill="none" stroke="#555" stroke-width="0.6"/>
<circle cx="393.60" cy="187.40" r="1.2" fill="#000"/>
<circle cx="393.24" cy="243.56" r="1.2" fill="#000"/>
<circle cx="394.79" cy="243.56" r="1.2" fill="#000"/>
<circle cx="394.07" cy="281.00" r="1.2" fill="#000"/>
<circle cx="424.20" cy="219.50" r="1.1" fill="#000"/>
<text x="428.4" y="221.2" font-size="4.45" text-anchor="start" fill="#111" stroke="#111" stroke-width="0.18">untreated</text>
<polygon points="423.10,225.09 425.30,225.09 424.20,223.11" fill="#000"/>
<text x="428.4" y="225.4" font-size="4.45" text-anchor="start" fill="#111" stroke="#111" stroke-width="0.18">murine normal DCs <tspan font-size="4.2">(P&lt;0.01)</tspan></text>
<rect x="423.15" y="228.35" width="2.1" height="2.1" fill="#000"/>
<text x="428.4" y="231" font-size="4.45" text-anchor="start" fill="#111" stroke="#111" stroke-width="0.18">murine regulatory DCs <tspan font-size="4.2">(P&lt;0.01)</tspan></text>
</svg>
</body>
</html>
